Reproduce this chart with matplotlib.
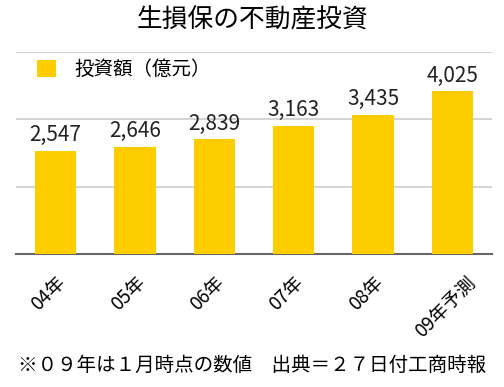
import matplotlib.pyplot as plt
import matplotlib.transforms as mtransforms

plt.rcParams['font.family'] = ['Noto Sans CJK JP', 'DejaVu Sans']

# データ
years = ['04年', '05年', '06年', '07年', '08年', '09年予測']
amounts = [2547, 2646, 2839, 3163, 3435, 4025]

fig = plt.figure(figsize=(5.04, 3.87), dpi=100)
ax = fig.add_axes([16 / 504, 1 - 254 / 387, 476 / 504, 202 / 387])

bars = ax.bar(range(len(years)), amounts, width=0.52, color='#FDCD00', label='投資額（億元）', zorder=3)
for b, v in zip(bars, amounts):
    ax.text(b.get_x() + b.get_width() / 2, v + 120, f'{v:,}', ha='center', va='bottom',
            fontsize=15, color='#222222')

ax.set_xlim(-0.5, len(years) - 0.5)
ax.set_ylim(0, 5000)
ax.set_yticks([0, 5000 / 3, 10000 / 3, 5000])
ax.yaxis.grid(True, color='#cccccc', linewidth=1.2, zorder=0)
ax.tick_params(axis='y', left=False, labelleft=False)
ax.tick_params(axis='x', length=0, pad=13)
ax.set_xticks(range(len(years)))
ax.set_xticklabels(years, rotation=45, ha='center', va='top', fontsize=13.5)
shift = mtransforms.ScaledTranslation(-7 / 100, 0, fig.dpi_scale_trans)
for lbl in ax.get_xticklabels():
    lbl.set_transform(lbl.get_transform() + shift)
for s in ['top', 'right', 'left']:
    ax.spines[s].set_visible(False)
ax.spines['bottom'].set_color('#666666')
ax.spines['bottom'].set_linewidth(1.5)

ax.legend(loc='center left', frameon=False, fontsize=14, handlelength=1.0, handleheight=1.0,
          handletextpad=0.9, borderpad=0, borderaxespad=0, bbox_to_anchor=(0.044, 0.913))

fig.text(0.5, 1 - 20 / 387, '生損保の不動産投資', ha='center', va='center', fontsize=18.5)
fig.text(0.5, 1 - 365 / 387, '※０９年は１月時点の数値　出典＝２７日付工商時報', ha='center', va='center', fontsize=14)

fig.savefig('out.png', dpi=100)
